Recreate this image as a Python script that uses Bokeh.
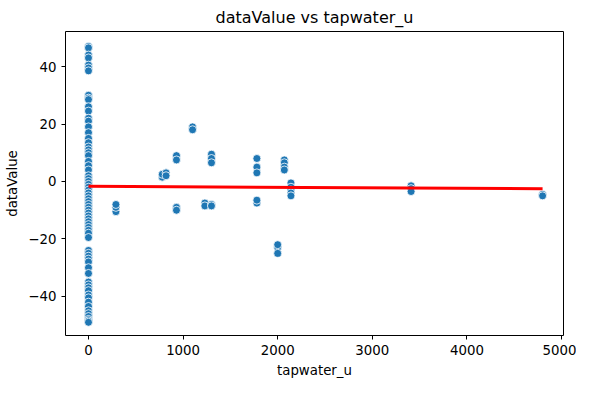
from bokeh.plotting import figure
from bokeh.models import Range1d, FixedTicker
from bokeh.embed import file_html
from bokeh.resources import INLINE

# points at tapwater_u == 0
zero_y = [47, 46.5, 44, 43, 40.5, 39.5, 38.5, 30, 29, 28.5, 26, 24.5, 22, 21, 19, 17, 15,
          13.5, 12, 11, 10, 9, 7, 5.5, 4, 2, 1, 0, -1, -2, -3, -4, -5, -6, -7, -8, -9,
          -10, -11, -12, -13, -14, -15, -16, -17, -18, -19.5, -24, -25, -26, -27,
          -28, -30, -32, -35, -36, -37, -38, -39.5, -40.5, -42, -43.5, -45, -46,
          -47, -48, -48.5, -49]
other_x = [290, 290, 290, 780, 780, 820, 820, 930, 930, 930, 930, 1100, 1100,
           1230, 1230, 1300, 1300, 1300, 1300, 1300, 1780, 1780, 1780, 1780, 1780,
           2000, 2000, 2000, 2070, 2070, 2070, 2070, 2140, 2140, 2140, 2140, 2140,
           3410, 3410, 3410, 4800, 4800]
other_y = [-10.5, -9, -8, 1.5, 2.5, 3, 2, 9, 7.5, -9, -10, 19, 18,
           -7.5, -8.5, 9.5, 8, 6.5, -8, -8.5, 8, 5, 3, -7.5, -6.5,
           -23, -22, -25, 7.5, 6.5, 5, 4, -0.5, -2, -3, -4, -5,
           -1.5, -2.5, -3.5, -4.5, -5]
fit_x = [0, 4800]
fit_y = [-1.7, -2.5]

xs = [0] * len(zero_y) + other_x
ys = zero_y + other_y

p = figure(frame_width=498, frame_height=304, output_backend="svg", toolbar_location=None,
           title="dataValue vs tapwater_u", x_axis_label="tapwater_u",
           y_axis_label="dataValue", min_border_left=65, min_border_right=13,
           min_border_top=29, min_border_bottom=45)
p.x_range = Range1d(-243, 5021)
p.y_range = Range1d(-53.6, 52.2)
p.xaxis.ticker = FixedTicker(ticks=[0, 1000, 2000, 3000, 4000, 5000])
p.yaxis.ticker = FixedTicker(ticks=[-40, -20, 0, 20, 40])
p.grid.visible = False
p.outline_line_color = "black"
p.title.align = "center"
p.title.text_font = "DejaVu Sans"
p.title.text_font_style = "normal"
p.title.text_font_size = "12pt"
p.title.text_color = "black"
for ax in (p.xaxis, p.yaxis):
    ax.axis_label_text_font = "DejaVu Sans"
    ax.axis_label_text_font_style = "normal"
    ax.axis_label_text_font_size = "10pt"
    ax.axis_label_text_color = "black"
    ax.major_label_text_font = "DejaVu Sans"
    ax.major_label_text_font_size = "10pt"
    ax.major_label_text_color = "black"
    ax.minor_tick_line_color = None
    ax.major_tick_line_color = "black"
    ax.major_tick_in = 0
    ax.major_tick_out = 4
    ax.axis_line_color = None

p.scatter(xs, ys, size=8, fill_color="#1f77b4", line_color="white", line_width=0.8)
p.line(fit_x, fit_y, line_color="red", line_width=3)

open("out.html", "w").write(file_html(p, INLINE))
